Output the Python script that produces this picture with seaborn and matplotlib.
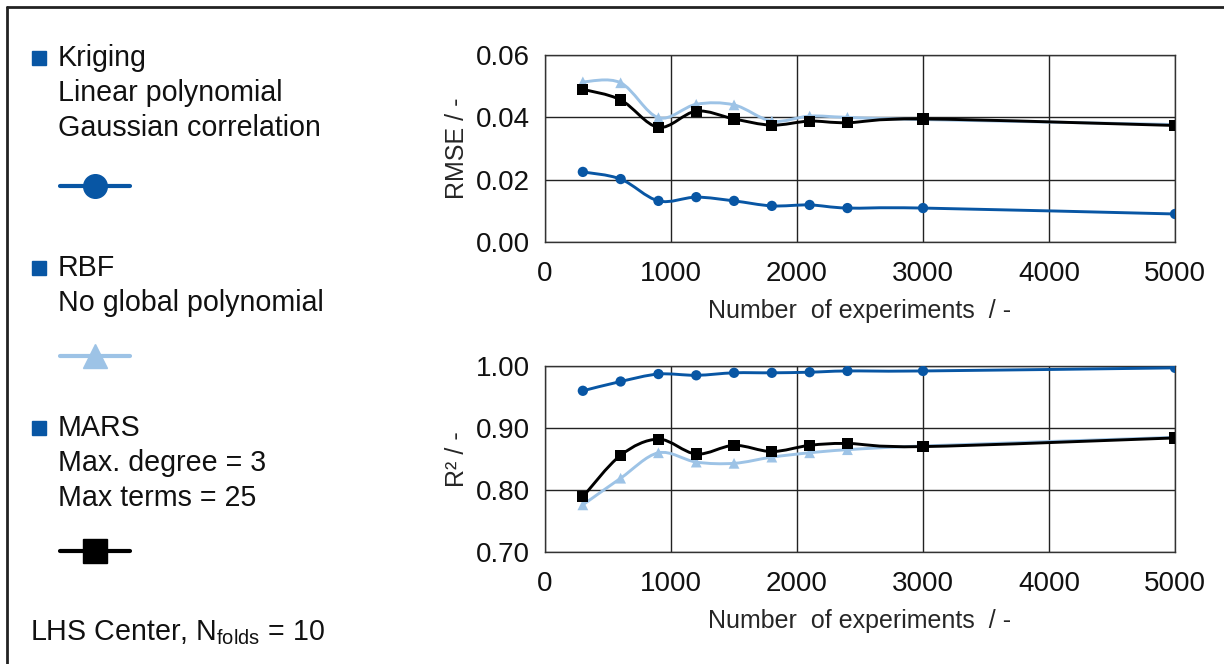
import matplotlib.pyplot as plt
import seaborn as sns
import pandas as pd
from matplotlib.path import Path
from matplotlib.patches import PathPatch, Rectangle
from matplotlib.lines import Line2D
from matplotlib.ticker import FormatStrFormatter

# number of experiments
n_exp = [300, 600, 900, 1200, 1500, 1800, 2100, 2400, 3000, 5000]

# RMSE values
rmse_kriging = [0.0225, 0.0202, 0.0132, 0.0144, 0.0132, 0.0116, 0.0119, 0.0109, 0.0109, 0.0090]
rmse_rbf = [0.0514, 0.0511, 0.0399, 0.0442, 0.0440, 0.0388, 0.0404, 0.0400, 0.0393, 0.0377]
rmse_mars = [0.0490, 0.0456, 0.0368, 0.0420, 0.0395, 0.0375, 0.0388, 0.0383, 0.0395, 0.0374]

# R² values
r2_kriging = [0.960, 0.975, 0.987, 0.985, 0.989, 0.989, 0.990, 0.992, 0.992, 0.997]
r2_rbf = [0.776, 0.819, 0.860, 0.845, 0.843, 0.853, 0.860, 0.865, 0.871, 0.885]
r2_mars = [0.789, 0.856, 0.882, 0.858, 0.872, 0.862, 0.872, 0.875, 0.870, 0.884]

models = ["Kriging", "RBF", "MARS"]
colors = {"Kriging": "#0856A4", "RBF": "#9DC3E6", "MARS": "#000000"}
markers = {"Kriging": "o", "RBF": "^", "MARS": "s"}
msizes = {"Kriging": 55, "RBF": 60, "MARS": 65}

sns.set_theme(style="white")
plt.rcParams["font.family"] = ["Liberation Sans", "DejaVu Sans"]
plt.rcParams["mathtext.fontset"] = "custom"
plt.rcParams["mathtext.rm"] = "Liberation Sans"
plt.rcParams["mathtext.it"] = "Liberation Sans:italic"


def smooth_path(xs, ys):
    # Excel-style smoothed line through the points (cubic Bezier segments)
    pts = list(zip(xs, ys))
    verts = [pts[0]]
    codes = [Path.MOVETO]
    n = len(pts)
    for i in range(n - 1):
        p0 = pts[max(i - 1, 0)]
        p1 = pts[i]
        p2 = pts[i + 1]
        p3 = pts[min(i + 2, n - 1)]
        c1 = (p1[0] + (p2[0] - p0[0]) / 6, p1[1] + (p2[1] - p0[1]) / 6)
        c2 = (p2[0] - (p3[0] - p1[0]) / 6, p2[1] - (p3[1] - p1[1]) / 6)
        verts += [c1, c2, p2]
        codes += [Path.CURVE4] * 3
    return Path(verts, codes)


def draw_panel(ax, series, ylim, yticks, ylabel):
    for i, (name, vals) in enumerate(zip(models, series)):
        df = pd.DataFrame({"n": n_exp, "v": vals})
        ax.add_patch(PathPatch(smooth_path(n_exp, vals), facecolor="none",
                               edgecolor=colors[name], lw=2.1, zorder=3 + i))
        sns.scatterplot(data=df, x="n", y="v", ax=ax, color=colors[name],
                        marker=markers[name], s=msizes[name], edgecolor="none",
                        zorder=3.5 + i, legend=False)
    ax.set_xlim(0, 5000)
    ax.set_ylim(*ylim)
    ax.set_xticks(range(0, 5001, 1000))
    ax.set_yticks(yticks)
    ax.yaxis.set_major_formatter(FormatStrFormatter("%.2f"))
    ax.grid(True, color="#222222", lw=1.0)
    ax.set_axisbelow(True)
    for sp in ax.spines.values():
        sp.set_color("#333333")
        sp.set_linewidth(1.0)
    ax.tick_params(length=0, labelsize=20, colors="#111111")
    ax.tick_params(axis="x", pad=14)
    ax.tick_params(axis="y", pad=11)
    ax.set_xlabel("Number  of experiments  / -", fontsize=18, labelpad=8)
    ax.set_ylabel(ylabel, fontsize=18, labelpad=5)


fig = plt.figure(figsize=(12.24, 6.64), dpi=100)

ax1 = fig.add_axes([0.4453, 0.6355, 0.5147, 0.2816])
draw_panel(ax1, [rmse_kriging, rmse_rbf, rmse_mars], (0, 0.06),
           [0, 0.02, 0.04, 0.06], "RMSE / -")

ax2 = fig.add_axes([0.4453, 0.1687, 0.5147, 0.2801])
draw_panel(ax2, [r2_kriging, r2_rbf, r2_mars], (0.70, 1.00),
           [0.70, 0.80, 0.90, 1.00], "R² / -")

# outer frame (top and left edges visible)
fig.add_artist(Line2D([0.0057, 1.0], [0.9895, 0.9895], transform=fig.transFigure,
                      color="#222222", lw=2))
fig.add_artist(Line2D([0.0057, 0.0057], [0.0, 0.9895], transform=fig.transFigure,
                      color="#222222", lw=2))

# left legend block
legend_text = [
    ("Kriging", ["Linear polynomial", "Gaussian correlation"], 58, 186),
    ("RBF", ["No global polynomial"], 268, 356),
    ("MARS", ["Max. degree = 3", "Max terms = 25"], 428, 551),
]
H = 664.0
W = 1224.0
for (name, lines, ytop, ykey) in legend_text:
    fig.add_artist(Rectangle((32 / W, 1 - (ytop + 7) / H), 14 / W, 14 / H,
                             transform=fig.transFigure, color="#0856A4"))
    fig.text(58 / W, 1 - ytop / H, name, fontsize=20.6, va="center", color="#111111")
    for j, t in enumerate(lines):
        fig.text(58 / W, 1 - (ytop + 35 * (j + 1)) / H, t, fontsize=20.6,
                 va="center", color="#111111")
    fig.add_artist(Line2D([60 / W, 130 / W], [1 - ykey / H, 1 - ykey / H],
                          transform=fig.transFigure, color=colors[name], lw=3))
    fig.add_artist(Line2D([95 / W], [1 - ykey / H], transform=fig.transFigure,
                          color=colors[name], marker=markers[name],
                          markersize=17, lw=0))

fig.text(30 / W, 1 - 633 / H, r"LHS Center, N$_{\mathrm{folds}}$ = 10",
         fontsize=20.6, va="center", color="#111111")

fig.savefig("out.png", dpi=100)
